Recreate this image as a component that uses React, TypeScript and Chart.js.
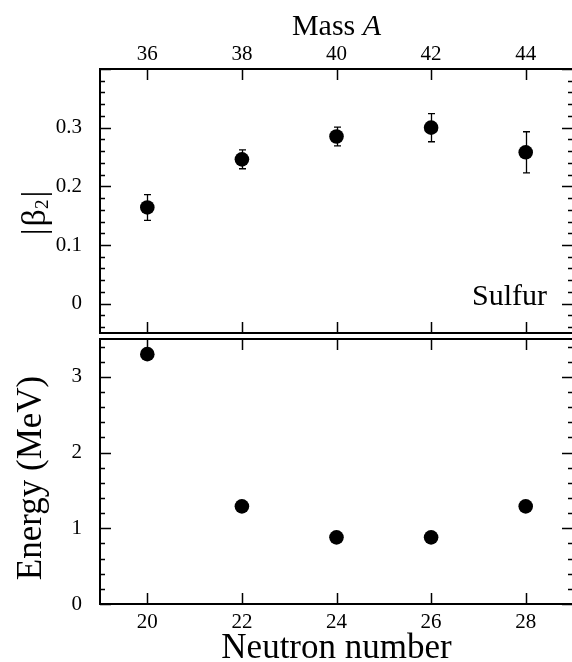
import { useEffect, useRef } from 'react';
import { Chart, registerables } from 'chart.js';
Chart.register(...registerables);

// ---- data ----
const neutrons = [20, 22, 24, 26, 28];
const massTicks = [36, 38, 40, 42, 44];
const beta2 = [0.164, 0.246, 0.285, 0.3, 0.258];
const beta2Err = [0.022, 0.016, 0.016, 0.024, 0.035];
const energy = [3.3, 1.29, 0.88, 0.88, 1.29];
const betaTickValues = [0, 0.1, 0.2, 0.3];
const energyTickValues = [0, 1, 2, 3];
const neutronTickValues = [20, 22, 24, 26, 28];

const FONT = '"Liberation Serif", "Times New Roman", serif';
const W = 580;
const RIGHT = 573;
const TICK_MAJOR = 11;
const TICK_MINOR = 5;

function minorValues(min: number, max: number, step: number, majors: number[]) {
  const out: number[] = [];
  const n = Math.round((max - min) / step);
  const start = Math.ceil(min / step - 1e-9) * step;
  for (let i = 0; i <= n + 1; i++) {
    const v = +(start + i * step).toFixed(6);
    if (v <= min + 1e-9 || v >= max - 1e-9) continue;
    if (majors.some((m) => Math.abs(m - v) < 1e-6)) continue;
    out.push(v);
  }
  return out;
}

function drawFrameAndTicks(chart: any, yMajors: number[], minorStep: number, xTop: { scale: string; values: number[] }) {
  const { ctx, chartArea: a, scales } = chart;
  const x = scales.x;
  const y = scales.y;
  ctx.save();
  ctx.strokeStyle = '#000';
  ctx.lineWidth = 2;
  ctx.strokeRect(a.left, a.top, a.right - a.left, a.bottom - a.top);
  ctx.lineWidth = 1.5;
  ctx.beginPath();
  yMajors.forEach((v) => {
    const py = Math.round(y.getPixelForValue(v)) + 0.5;
    ctx.moveTo(a.left, py); ctx.lineTo(a.left + TICK_MAJOR, py);
    ctx.moveTo(a.right, py); ctx.lineTo(a.right - TICK_MAJOR, py);
  });
  minorValues(y.min, y.max, minorStep, yMajors).forEach((v) => {
    const py = Math.round(y.getPixelForValue(v)) + 0.5;
    ctx.moveTo(a.left, py); ctx.lineTo(a.left + TICK_MINOR, py);
    ctx.moveTo(a.right, py); ctx.lineTo(a.right - TICK_MINOR, py);
  });
  neutronTickValues.forEach((v) => {
    const px = Math.round(x.getPixelForValue(v)) + 0.5;
    ctx.moveTo(px, a.bottom); ctx.lineTo(px, a.bottom - TICK_MAJOR);
  });
  const ts = scales[xTop.scale];
  xTop.values.forEach((v) => {
    const px = Math.round(ts.getPixelForValue(v)) + 0.5;
    ctx.moveTo(px, a.top); ctx.lineTo(px, a.top + TICK_MAJOR);
  });
  ctx.stroke();
  ctx.restore();
}

const topPlugin = {
  id: 'topPanel',
  beforeDatasetsDraw(chart: any) {
    const { ctx, scales } = chart;
    const x = scales.x;
    const y = scales.y;
    ctx.save();
    ctx.strokeStyle = '#000';
    ctx.lineWidth = 1.3;
    ctx.beginPath();
    neutrons.forEach((n, i) => {
      const px = Math.round(x.getPixelForValue(n)) + 0.5;
      const y1 = y.getPixelForValue(beta2[i] + beta2Err[i]);
      const y2 = y.getPixelForValue(beta2[i] - beta2Err[i]);
      ctx.moveTo(px, y1); ctx.lineTo(px, y2);
      ctx.moveTo(px - 3.5, y1); ctx.lineTo(px + 3.5, y1);
      ctx.moveTo(px - 3.5, y2); ctx.lineTo(px + 3.5, y2);
    });
    ctx.stroke();
    ctx.restore();
  },
  afterDraw(chart: any) {
    drawFrameAndTicks(chart, [0, 0.1, 0.2, 0.3, 0.4], 0.02, { scale: 'x2', values: massTicks });
    const { ctx, chartArea: a } = chart;
    ctx.save();
    ctx.fillStyle = '#000';
    ctx.textBaseline = 'alphabetic';
    ctx.font = `30px ${FONT}`;
    const w1 = ctx.measureText('Mass ').width;
    ctx.font = `italic 30px ${FONT}`;
    const w2 = ctx.measureText('A').width;
    const cx = (a.left + a.right) / 2;
    const sx = cx - (w1 + w2) / 2;
    ctx.font = `30px ${FONT}`;
    ctx.fillText('Mass ', sx, 35);
    ctx.font = `italic 30px ${FONT}`;
    ctx.fillText('A', sx + w1, 35);
    ctx.font = `30px ${FONT}`;
    ctx.textAlign = 'right';
    ctx.fillText('Sulfur', 547, 305);
    // |β2|
    ctx.textAlign = 'left';
    ctx.translate(45, 213);
    ctx.rotate(-Math.PI / 2);
    const big = `34px ${FONT}`;
    const small = `19px ${FONT}`;
    ctx.font = big;
    const bar = ctx.measureText('|').width;
    const beta = ctx.measureText('β').width;
    ctx.font = small;
    const two = ctx.measureText('2').width;
    const gap = 2;
    const total = bar + gap + beta + two + gap + bar;
    let tx = -total / 2;
    ctx.font = big;
    ctx.fillText('|', tx, 0);
    tx += bar + gap;
    ctx.fillText('β', tx, 0);
    tx += beta;
    ctx.font = small;
    ctx.fillText('2', tx, 3);
    tx += two + gap;
    ctx.font = big;
    ctx.fillText('|', tx, 0);
    ctx.restore();
  },
};

const bottomPlugin = {
  id: 'bottomPanel',
  afterDraw(chart: any) {
    drawFrameAndTicks(chart, [0, 1, 2, 3], 0.2, { scale: 'x', values: neutronTickValues });
    const { ctx, chartArea: a } = chart;
    ctx.save();
    ctx.fillStyle = '#000';
    ctx.font = `35px ${FONT}`;
    ctx.textAlign = 'center';
    ctx.textBaseline = 'alphabetic';
    ctx.fillText('Neutron number', (a.left + a.right) / 2, 322);
    ctx.translate(41, 142);
    ctx.rotate(-Math.PI / 2);
    ctx.fillText('Energy (MeV)', 0, 0);
    ctx.restore();
  },
};

const tickFont = { family: FONT, size: 21 };

const noPad = (s: any) => {
  s.paddingTop = 0;
  s.paddingBottom = 0;
  s.paddingLeft = 0;
  s.paddingRight = 0;
};

export default function App() {
  const topRef = useRef<HTMLCanvasElement>(null);
  const botRef = useRef<HTMLCanvasElement>(null);

  useEffect(() => {
    const top = new Chart(topRef.current as HTMLCanvasElement, {
      type: 'scatter',
      data: {
        datasets: [
          {
            data: neutrons.map((n, i) => ({ x: n, y: beta2[i] })),
            backgroundColor: '#000',
            borderColor: '#000',
            borderWidth: 0,
            pointRadius: 7.3,
            pointHoverRadius: 7.3,
          },
        ],
      },
      options: {
        responsive: false,
        animation: false,
        devicePixelRatio: 1,
        events: [],
        layout: { padding: { left: 0, top: 0, right: W - RIGHT, bottom: 3 }, autoPadding: false },
        plugins: { legend: { display: false }, tooltip: { enabled: false } },
        scales: {
          x: { type: 'linear', min: 19, max: 29, display: false },
          x2: {
            type: 'linear',
            position: 'top',
            min: 35,
            max: 45,
            afterBuildTicks: (s: any) => { s.ticks = massTicks.map((v) => ({ value: v })); },
            afterFit: (s: any) => { s.height = 69; noPad(s); },
            ticks: { font: tickFont, color: '#000', padding: 2, maxRotation: 0, callback: (v: any) => String(v) },
            grid: { display: false, drawTicks: false },
            border: { display: false },
          },
          y: {
            type: 'linear',
            min: -0.05,
            max: 0.4,
            afterBuildTicks: (s: any) => { s.ticks = betaTickValues.map((v) => ({ value: v })); },
            afterFit: (s: any) => { s.width = 100; noPad(s); },
            ticks: { font: tickFont, color: '#000', padding: 18, callback: (v: any) => String(+Number(v).toFixed(2)) },
            grid: { display: false, drawTicks: false },
            border: { display: false },
          },
        },
      } as any,
      plugins: [topPlugin],
    });

    const bot = new Chart(botRef.current as HTMLCanvasElement, {
      type: 'scatter',
      data: {
        datasets: [
          {
            data: neutrons.map((n, i) => ({ x: n, y: energy[i] })),
            backgroundColor: '#000',
            borderColor: '#000',
            borderWidth: 0,
            pointRadius: 7.3,
            pointHoverRadius: 7.3,
          },
        ],
      },
      options: {
        responsive: false,
        animation: false,
        devicePixelRatio: 1,
        events: [],
        layout: { padding: { left: 0, top: 3, right: W - RIGHT, bottom: 0 }, autoPadding: false },
        plugins: { legend: { display: false }, tooltip: { enabled: false } },
        scales: {
          x: {
            type: 'linear',
            min: 19,
            max: 29,
            afterBuildTicks: (s: any) => { s.ticks = neutronTickValues.map((v) => ({ value: v })); },
            afterFit: (s: any) => { s.height = 58; noPad(s); },
            ticks: { font: tickFont, color: '#000', padding: 6, maxRotation: 0, callback: (v: any) => String(v) },
            grid: { display: false, drawTicks: false },
            border: { display: false },
          },
          y: {
            type: 'linear',
            min: 0,
            max: 3.5,
            afterBuildTicks: (s: any) => { s.ticks = energyTickValues.map((v) => ({ value: v })); },
            afterFit: (s: any) => { s.width = 100; noPad(s); },
            ticks: { font: tickFont, color: '#000', padding: 18, callback: (v: any) => String(v) },
            grid: { display: false, drawTicks: false },
            border: { display: false },
          },
        },
      } as any,
      plugins: [bottomPlugin],
    });

    return () => {
      top.destroy();
      bot.destroy();
    };
  }, []);

  return (
    <div style={{ position: 'absolute', left: 0, top: 0, width: 572, height: 662, overflow: 'hidden', background: '#fff' }}>
      <canvas ref={topRef} width={W} height={336} style={{ position: 'absolute', left: 0, top: 0, width: W, height: 336 }} />
      <canvas ref={botRef} width={W} height={326} style={{ position: 'absolute', left: 0, top: 336, width: W, height: 326 }} />
    </div>
  );
}
